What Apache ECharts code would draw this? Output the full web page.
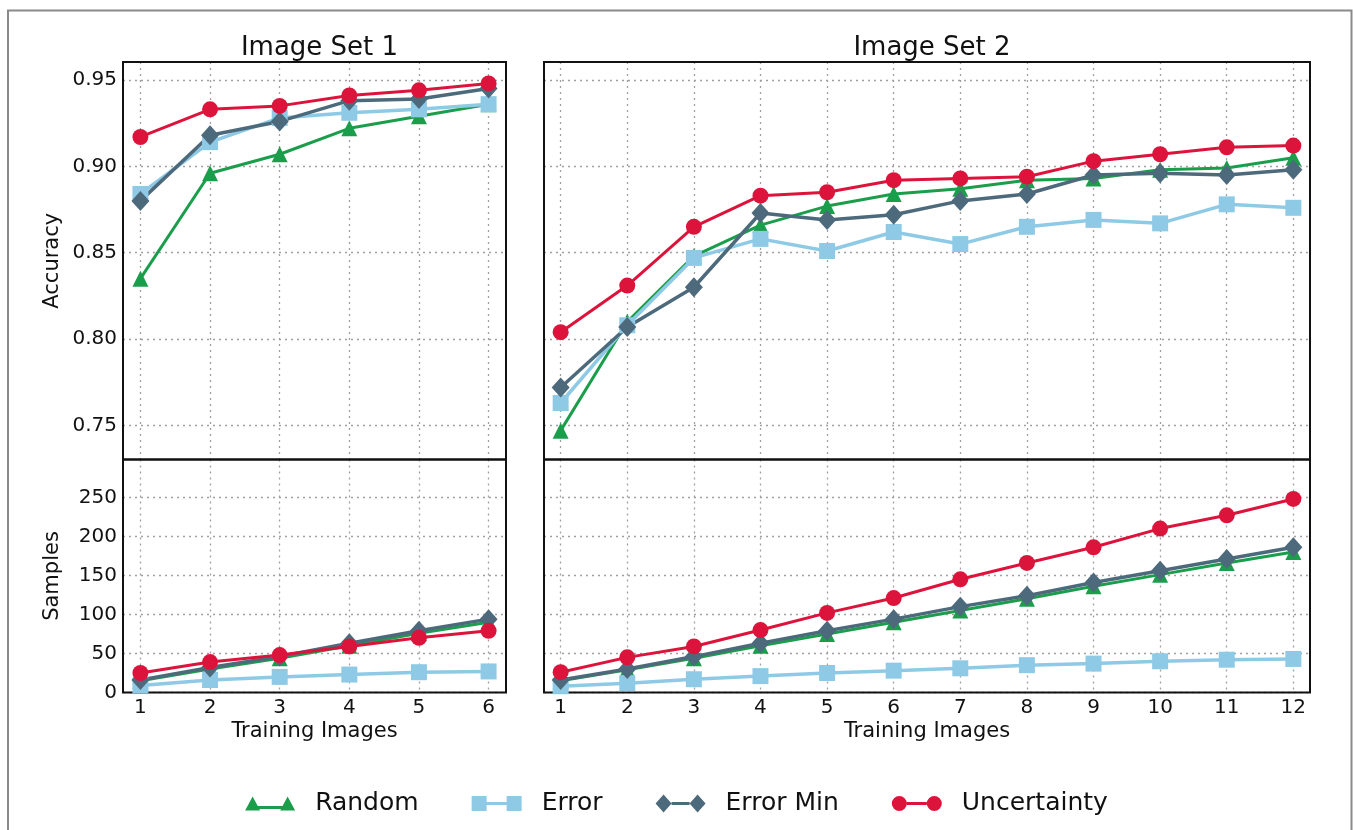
<!DOCTYPE html>
<html>
<head>
<meta charset="utf-8">
<script src="https://cdn.jsdelivr.net/npm/echarts@6/dist/echarts.min.js"></script>
<style>
html,body{margin:0;padding:0;background:#fff;}
#chart{width:1353px;height:830px;}
</style>
</head>
<body>
<div id="chart"></div>
<script>
// ---- data ----
const seriesNames = ['Random', 'Error', 'Error Min', 'Uncertainty'];
const panelTitles = ['Image Set 1', 'Image Set 2'];
const xLabel = 'Training Images';
const yLabelTop = 'Accuracy';
const yLabelBottom = 'Samples';

const xSet1 = [1, 2, 3, 4, 5, 6];
const xSet2 = [1, 2, 3, 4, 5, 6, 7, 8, 9, 10, 11, 12];
const accTicks = [0.75, 0.80, 0.85, 0.90, 0.95];
const sampleTicks = [0, 50, 100, 150, 200, 250];

// Image Set 1 - accuracy
const randomAcc1 = [0.835, 0.896, 0.907, 0.922, 0.929, 0.936];
const errorAcc1  = [0.884, 0.914, 0.928, 0.931, 0.933, 0.936];
const errMinAcc1 = [0.880, 0.918, 0.926, 0.938, 0.939, 0.945];
const uncAcc1    = [0.917, 0.933, 0.935, 0.941, 0.944, 0.948];

// Image Set 1 - samples
const randomS1 = [15, 30, 44, 60, 76, 90];
const errorS1  = [9, 16, 20, 23, 26, 27];
const errMinS1 = [16, 32, 46, 63, 79, 94];
const uncS1    = [25, 39, 48, 59, 70, 79];

// Image Set 2 - accuracy
const randomAcc2 = [0.747, 0.810, 0.848, 0.866, 0.877, 0.884, 0.887, 0.892, 0.893, 0.898, 0.899, 0.905];
const errorAcc2  = [0.763, 0.808, 0.847, 0.858, 0.851, 0.862, 0.855, 0.865, 0.869, 0.867, 0.878, 0.876];
const errMinAcc2 = [0.772, 0.807, 0.830, 0.873, 0.869, 0.872, 0.880, 0.884, 0.895, 0.896, 0.895, 0.898];
const uncAcc2    = [0.804, 0.831, 0.865, 0.883, 0.885, 0.892, 0.893, 0.894, 0.903, 0.907, 0.911, 0.912];

// Image Set 2 - samples
const randomS2 = [15, 29, 44, 60, 75, 90, 105, 120, 136, 151, 166, 180];
const errorS2  = [8, 12, 17, 21, 25, 28, 31, 35, 37, 40, 42, 43];
const errMinS2 = [16, 30, 46, 63, 79, 94, 110, 124, 141, 156, 171, 186];
const uncS2    = [26, 45, 59, 80, 102, 121, 145, 166, 186, 210, 227, 248];

// ---- styling ----
const FONT = 'DejaVu Sans';
const colors = ['#1b9e4b', '#8ecae6', '#4d6a7c', '#dc143c'];
const symbols = ['triangle', 'rect', 'diamond', 'circle'];
const symbolSizes = [16, 16, [18, 20], 16];
const lineWidths = [3, 3.5, 3.5, 3];
const legendIcons = [
  'path://M0,14 L7.5,0 L15,14 Z M7.5,9.5 H42.5 V12.5 H7.5 Z M35,14 L42.5,0 L50,14 Z',
  'path://M0,0 H15 V15 H0 Z M15,6 H35 V9 H15 Z M35,0 H50 V15 H35 Z',
  'path://M0,9 L8,0 L16,9 L8,18 Z M16,7.5 H34 V10.5 H16 Z M34,9 L42,0 L50,9 L42,18 Z',
  'path://M0,7.5 A7.5,7.5 0 1,1 15,7.5 A7.5,7.5 0 1,1 0,7.5 Z M15,6 H35 V9 H15 Z M35,7.5 A7.5,7.5 0 1,1 50,7.5 A7.5,7.5 0 1,1 35,7.5 Z'
];

const panels = [
  { xs: xSet1, data: [randomAcc1, errorAcc1, errMinAcc1, uncAcc1] },
  { xs: xSet1, data: [randomS1, errorS1, errMinS1, uncS1] },
  { xs: xSet2, data: [randomAcc2, errorAcc2, errMinAcc2, uncAcc2] },
  { xs: xSet2, data: [randomS2, errorS2, errMinS2, uncS2] }
];

const grids = [
  { left: 123, top: 62, width: 383, height: 397.5 },
  { left: 123, top: 459.5, width: 383, height: 233 },
  { left: 544, top: 62, width: 766, height: 397.5 },
  { left: 544, top: 459.5, width: 766, height: 233 }
].map(g => Object.assign(g, { show: true, borderColor: '#111', borderWidth: 2, backgroundColor: 'transparent', z: 3 }));

const gridLine = { show: true, lineStyle: { color: '#a0a0a0', width: 1.3, type: [2, 4] } };

function makeX(i) {
  const isBottom = i % 2 === 1;
  const xs = panels[i].xs;
  return {
    type: 'value', gridIndex: i,
    min: 0.75, max: xs[xs.length - 1] + 0.25,
    axisLine: { show: false },
    axisTick: { show: false, customValues: xs },
    axisLabel: { show: isBottom, customValues: xs, margin: 5, fontFamily: FONT, fontSize: 20, color: '#111' },
    splitLine: gridLine,
    name: isBottom ? xLabel : '', nameLocation: 'middle', nameGap: 29,
    nameTextStyle: { fontFamily: FONT, fontSize: 21, color: '#111' }
  };
}
function makeY(i) {
  const isBottom = i % 2 === 1;
  const isLeft = i < 2;
  const ticks = isBottom ? sampleTicks : accTicks;
  return {
    type: 'value', gridIndex: i,
    min: isBottom ? 0 : 0.7303, max: isBottom ? 298.5 : 0.9604,
    axisLine: { show: false },
    axisTick: { show: false, customValues: ticks },
    axisLabel: { show: isLeft, customValues: ticks, margin: 6, fontFamily: FONT, fontSize: 20, color: '#111',
      formatter: v => isBottom ? String(Math.round(v)) : v.toFixed(2) },
    splitLine: gridLine,
    name: isLeft ? (isBottom ? yLabelBottom : yLabelTop) : '', nameLocation: 'middle', nameGap: 60,
    nameTextStyle: { fontFamily: FONT, fontSize: 21, color: '#111' }
  };
}

const series = [];
panels.forEach((p, gi) => {
  p.data.forEach((vals, si) => {
    series.push({
      name: seriesNames[si], type: 'line',
      xAxisIndex: gi, yAxisIndex: gi,
      data: vals.map((v, k) => [p.xs[k], v]),
      symbol: symbols[si], symbolSize: symbolSizes[si],
      showAllSymbol: true,
      lineStyle: { color: colors[si], width: lineWidths[si] },
      itemStyle: { color: colors[si], borderWidth: 0 },
      emphasis: { disabled: true },
      animation: false, z: 4
    });
  });
});

const option = {
  backgroundColor: '#fff',
  animation: false,
  title: [
    { text: panelTitles[0], left: 314.5, top: 30, textAlign: 'center',
      textStyle: { fontFamily: FONT, fontSize: 26, fontWeight: 'normal', color: '#111' } },
    { text: panelTitles[1], left: 927, top: 30, textAlign: 'center',
      textStyle: { fontFamily: FONT, fontSize: 26, fontWeight: 'normal', color: '#111' } }
  ],
  legend: {
    data: seriesNames.map((n, i) => ({ name: n, icon: legendIcons[i], itemStyle: { color: colors[i] } })),
    left: 'center', top: 786,
    itemWidth: 50, itemHeight: 18, itemGap: 53,
    textStyle: { fontFamily: FONT, fontSize: 25, color: '#111', padding: [0, 0, 0, 15] },
    selectedMode: false
  },
  graphic: [
    { type: 'rect', shape: { x: 8, y: 10.5, width: 1343.5, height: 840 },
      style: { fill: 'none', stroke: '#8a8a8a', lineWidth: 2 }, silent: true, z: -1 }
  ],
  grid: grids,
  xAxis: [0, 1, 2, 3].map(makeX),
  yAxis: [0, 1, 2, 3].map(makeY),
  series: series
};

const chart = echarts.init(document.getElementById('chart'), null, { renderer: 'canvas' });
chart.setOption(option);
</script>
</body>
</html>
